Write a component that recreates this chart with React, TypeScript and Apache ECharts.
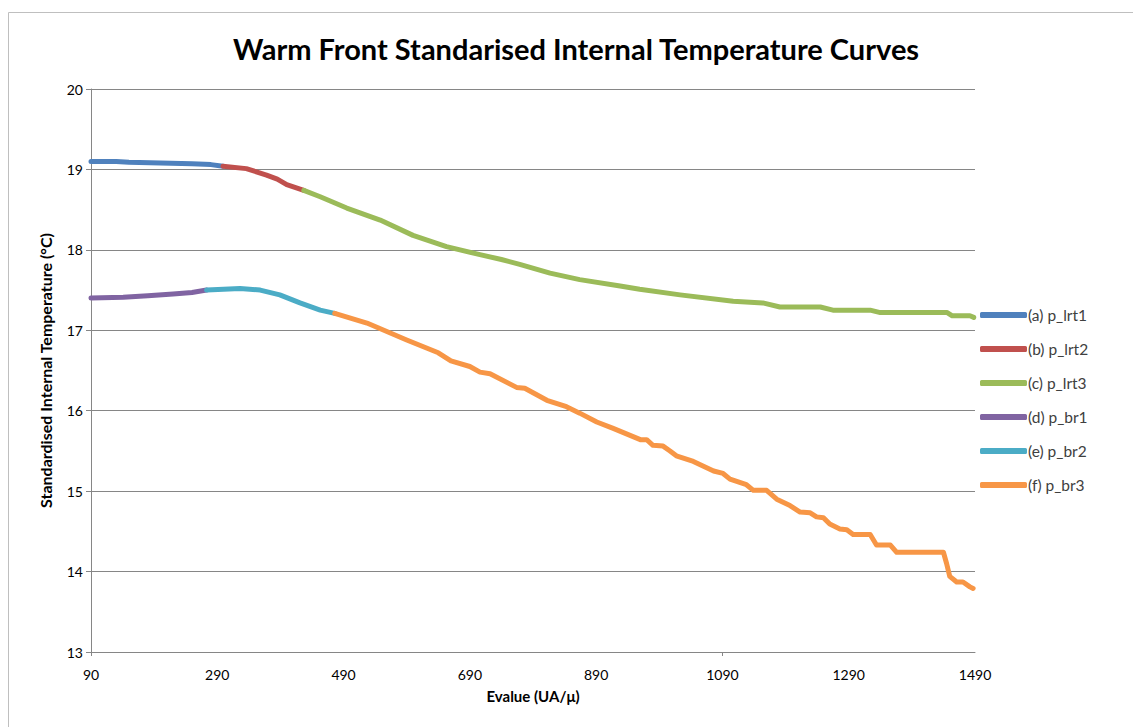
import React, { useEffect, useRef } from "react";
import * as echarts from "echarts";

// Standardised internal temperature (°C) against Evalue (UA/μ), one array per segment
const lrt1: [number, number][] = [
  [90, 19.1], [130, 19.1], [150, 19.09], [200, 19.08], [250, 19.07], [280, 19.06], [299, 19.04],
];
const lrt2: [number, number][] = [
  [299, 19.04], [336, 19.01], [368, 18.93], [385, 18.88], [400, 18.81], [427, 18.74],
];
const lrt3: [number, number][] = [
  [427, 18.74], [453, 18.66], [495, 18.52], [548, 18.37], [600, 18.18], [653, 18.04],
  [706, 17.94], [740, 17.88], [769, 17.82], [817, 17.71], [864, 17.63], [928, 17.55],
  [959, 17.51], [1023, 17.44], [1107, 17.36], [1154, 17.34], [1181, 17.29], [1245, 17.29],
  [1265, 17.25], [1324, 17.25], [1340, 17.22], [1446, 17.22], [1454, 17.18], [1482, 17.18],
  [1488, 17.16],
];
const br1: [number, number][] = [
  [90, 17.4], [141, 17.41], [180, 17.43], [220, 17.45], [250, 17.47], [273, 17.5],
];
const br2: [number, number][] = [
  [273, 17.5], [300, 17.51], [326, 17.52], [358, 17.5], [389, 17.44], [421, 17.34],
  [453, 17.25], [476, 17.21],
];
const br3: [number, number][] = [
  [476, 17.21], [527, 17.09], [590, 16.88], [640, 16.72], [660, 16.62], [690, 16.55],
  [706, 16.48], [722, 16.46], [764, 16.29], [777, 16.28], [812, 16.13], [843, 16.05],
  [864, 15.97], [891, 15.86], [917, 15.78], [960, 15.64], [970, 15.64], [980, 15.57],
  [996, 15.56], [1007, 15.5], [1017, 15.44], [1044, 15.37], [1076, 15.25], [1091, 15.22],
  [1102, 15.15], [1128, 15.08], [1139, 15.01], [1160, 15.01], [1176, 14.9], [1197, 14.82],
  [1213, 14.74], [1229, 14.73], [1239, 14.68], [1250, 14.67], [1260, 14.59], [1276, 14.53],
  [1287, 14.52], [1297, 14.46], [1324, 14.46], [1334, 14.33], [1356, 14.33], [1366, 14.24],
  [1440, 14.24], [1445, 14.1], [1450, 13.94], [1461, 13.87], [1471, 13.87], [1482, 13.81],
  [1487, 13.79],
];

const seriesNames = [
  "(a) p_lrt1", "(b) p_lrt2", "(c) p_lrt3", "(d) p_br1", "(e) p_br2", "(f) p_br3",
];
const seriesData = [lrt1, lrt2, lrt3, br1, br2, br3];
const seriesColors = ["#4F81BD", "#C0504D", "#9BBB59", "#8064A2", "#4BACC6", "#F79646"];

const FONT = "Lato, 'Open Sans', sans-serif";

export default function App() {
  const ref = useRef<HTMLDivElement>(null);

  useEffect(() => {
    if (!ref.current) return;
    const chart = echarts.init(ref.current, undefined, { renderer: "svg" });
    chart.setOption({
      animation: false,
      backgroundColor: "#ffffff",
      textStyle: { fontFamily: FONT },
      title: {
        text: "Warm Front Standarised Internal Temperature Curves",
        left: 228,
        top: 29,
        textStyle: { fontFamily: FONT, fontWeight: "bold", fontSize: 29, color: "#000000" },
      },
      graphic: [
        {
          type: "rect",
          shape: { x: 8.5, y: 12.5, width: 1140, height: 740 },
          style: { fill: "none", stroke: "#bfbfbf", lineWidth: 1 },
          silent: true,
        },
      ],
      legend: {
        orient: "vertical",
        left: 975,
        top: 302,
        itemWidth: 47,
        itemHeight: 6,
        itemGap: 18,
        icon: "roundRect",
        data: seriesNames,
        textStyle: { fontFamily: FONT, fontSize: 15.5, color: "#404040", padding: [0, 0, 0, -4] },
      },
      grid: { left: 91, right: 158, top: 89, bottom: 75 },
      xAxis: {
        type: "value",
        min: 90,
        max: 1490,
        interval: 200,
        name: "Evalue (UA/μ)",
        nameLocation: "middle",
        nameGap: 36,
        nameTextStyle: { fontFamily: FONT, fontWeight: "bold", fontSize: 15, color: "#000000" },
        axisLine: { lineStyle: { color: "#868686", width: 1 } },
        axisTick: { show: true, customValues: [90, 1090], length: 4, lineStyle: { color: "#868686" } },
        axisLabel: {
          margin: 15,
          fontFamily: FONT,
          fontSize: 14,
          color: "#000000",
          formatter: (v: number) => String(v),
        },
        splitLine: { show: false },
      },
      yAxis: {
        type: "value",
        min: 13,
        max: 20,
        interval: 1,
        name: "Standardised Internal Temperature (°C)",
        nameLocation: "middle",
        nameGap: 38,
        nameTextStyle: { fontFamily: FONT, fontWeight: "bold", fontSize: 16, color: "#000000" },
        axisLine: { show: true, lineStyle: { color: "#868686", width: 1 } },
        axisTick: { show: true, length: 5, lineStyle: { color: "#868686" } },
        axisLabel: { margin: 8, fontFamily: FONT, fontSize: 14, color: "#000000" },
        splitLine: { show: true, lineStyle: { color: "#868686", width: 1 } },
      },
      series: seriesData.map((d, i) => ({
        name: seriesNames[i],
        type: "line",
        data: d,
        showSymbol: false,
        symbol: "none",
        color: seriesColors[i],
        lineStyle: { width: 5, color: seriesColors[i], cap: "round", join: "round" },
        itemStyle: { color: seriesColors[i] },
      })),
    });
    return () => chart.dispose();
  }, []);

  return (
    <div
      ref={ref}
      style={{ position: "absolute", left: 0, top: 0, width: 1133, height: 727 }}
    />
  );
}
